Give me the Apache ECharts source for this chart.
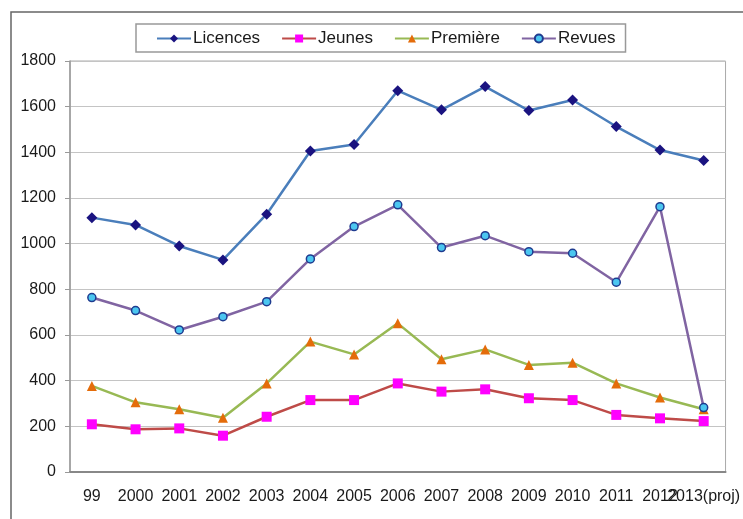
<!DOCTYPE html>
<html>
<head>
<meta charset="utf-8">
<script src="https://cdn.jsdelivr.net/npm/echarts@6/dist/echarts.min.js"></script>
<style>
    html, body { margin: 0; padding: 0; background: #fff; }
    #chart { width: 743px; height: 519px; }
</style>
</head>
<body>
<div id="chart"></div>
<script>
var years = ['99', '2000', '2001', '2002', '2003', '2004', '2005', '2006', '2007', '2008', '2009', '2010', '2011', '2012', '2013(proj)'];
var licences = [1114, 1082, 990, 929, 1129, 1406, 1434, 1670, 1586, 1688, 1583, 1629, 1513, 1410, 1364];
var jeunes = [209, 187, 191, 159, 242, 315, 315, 388, 352, 362, 323, 315, 250, 235, 223];
var premiere = [377, 305, 275, 238, 388, 571, 515, 651, 494, 537, 469, 479, 388, 326, 275];
var revues = [764, 707, 622, 680, 746, 933, 1075, 1170, 983, 1035, 965, 958, 831, 1162, 282];

var font = "'Liberation Sans', Arial, sans-serif";

var chart = echarts.init(document.getElementById('chart'));

function serie(name, data, lineColor, symbol, size, fill, border) {
    return {
        name: name,
        type: 'line',
        data: data,
        symbol: symbol,
        symbolSize: size,
        showAllSymbol: true,
        lineStyle: { color: lineColor, width: 2.5 },
        itemStyle: { color: fill, borderColor: border || fill, borderWidth: border ? 1.5 : 0 },
        emphasis: { disabled: true },
        animation: false
    };
}

var option = {
    animation: false,
    textStyle: { fontFamily: font },
    graphic: [{
        type: 'rect',
        shape: { x: 11, y: 12, width: 760, height: 540 },
        style: { fill: 'none', stroke: '#666', lineWidth: 1.5 },
        silent: true
    }],
    legend: {
        left: 136,
        top: 24,
        padding: [6, 10, 5, 20],
        itemGap: 21,
        itemWidth: 34,
        itemHeight: 10,
        borderColor: '#999',
        borderWidth: 1.5,
        textStyle: { fontFamily: font, fontSize: 17, color: '#1a1a1a', padding: [0, 0, 0, -3] },
        data: ['Licences', 'Jeunes', 'Première', 'Revues']
    },
    grid: {
        left: 70,
        right: 13,
        top: 61,
        bottom: 47,
        show: true,
        borderColor: '#aaa',
        borderWidth: 1
    },
    xAxis: {
        type: 'category',
        data: years,
        boundaryGap: true,
        axisLine: { lineStyle: { color: '#888', width: 2 } },
        axisTick: { show: false },
        axisLabel: {
            interval: 0,
            hideOverlap: false,
            fontFamily: font,
            fontSize: 16,
            color: '#1a1a1a',
            margin: 17
        }
    },
    yAxis: {
        type: 'value',
        min: 0,
        max: 1800,
        interval: 200,
        axisLine: { show: true, lineStyle: { color: '#999', width: 1.5 } },
        axisTick: { show: true, length: 5, lineStyle: { color: '#999' } },
        splitLine: { lineStyle: { color: '#c4c4c4', width: 1.2 } },
        axisLabel: {
            fontFamily: font,
            fontSize: 16,
            color: '#1a1a1a',
            margin: 14,
            formatter: function (v) { return String(v); }
        }
    },
    series: [
        serie('Licences', licences, '#4a7ebb', 'diamond', 11, '#1a1380'),
        serie('Jeunes', jeunes, '#be4b48', 'rect', 10, '#ff00ff'),
        serie('Première', premiere, '#98b954', 'triangle', 10, '#e46c0a'),
        serie('Revues', revues, '#8064a2', 'circle', 8, '#4bc6f0', '#1f3b8f')
    ]
};

chart.setOption(option);
</script>
</body>
</html>
